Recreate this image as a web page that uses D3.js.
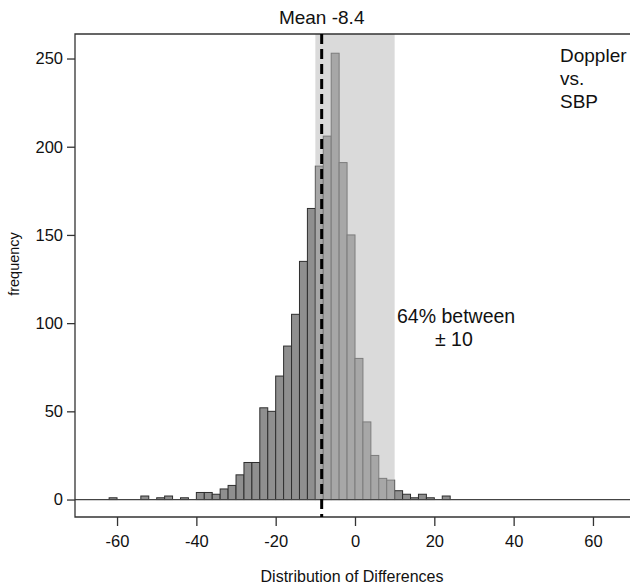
<!DOCTYPE html>
<html>
<head>
<meta charset="utf-8">
<script src="https://cdn.jsdelivr.net/npm/d3@7/dist/d3.min.js"></script>
<style>
  body { margin: 0; background: #fff; }
  svg text { font-family: "Liberation Sans", Arial, Helvetica, sans-serif; fill: #111; }
</style>
</head>
<body>
<svg id="chart" width="630" height="585"></svg>
<script>
// histogram bins, 2 units wide, left edge of each bin
const binStarts = [-62, -60, -58, -56, -54, -52, -50, -48, -46, -44, -42, -40, -38, -36, -34, -32, -30, -28, -26, -24,
  -22, -20, -18, -16, -14, -12, -10, -8, -6, -4, -2, 0, 2, 4, 6, 8, 10, 12, 14, 16, 18, 20, 22]
const counts = [1, 0, 0, 0, 2, 0, 1, 2, 0, 1, 0, 4, 4, 3, 6, 8, 14, 21, 21, 52,
  50, 70, 87, 105, 135, 165, 189, 206, 253, 191, 150, 80, 44, 25, 12, 11, 5, 3, 1, 3, 1, 0, 2]
const binWidth = 2
const meanDiff = -8.4
const band = [-10, 10]
const xTicks = [-60, -40, -20, 0, 20, 40, 60]
const yTicks = [0, 50, 100, 150, 200, 250]

var svg = d3.select('#chart')

var x = d3.scaleLinear().domain([-70.6, 70.6]).range([75, 635])
var y = d3.scaleLinear().domain([-9.9, 263.9]).range([517, 34])

var bins = binStarts.map(function (s, i) {
  return {x0: s, x1: s + binWidth, n: counts[i]}
}).filter(function (d) { return d.n > 0 })

// bars
svg.append('g')
  .selectAll('rect')
  .data(bins)
  .join('rect')
  .attr('x', function (d) { return x(d.x0) })
  .attr('width', function (d) { return x(d.x1) - x(d.x0) })
  .attr('y', function (d) { return y(d.n) })
  .attr('height', function (d) { return y(0) - y(d.n) })
  .attr('fill', '#8f8f8f')
  .attr('stroke', '#2e2e2e')
  .attr('stroke-width', 1)

// +/- 10 band, translucent over the bars
svg.append('rect')
  .attr('x', x(band[0]))
  .attr('width', x(band[1]) - x(band[0]))
  .attr('y', y(263.9))
  .attr('height', y(0) - y(263.9))
  .attr('fill', 'rgb(188,188,188)')
  .attr('fill-opacity', 0.55)

// zero line
svg.append('line')
  .attr('x1', x(-70.6)).attr('x2', 630)
  .attr('y1', y(0)).attr('y2', y(0))
  .attr('stroke', '#444')
  .attr('stroke-width', 1.2)

// frame (left, top, bottom)
svg.append('path')
  .attr('d', 'M632,' + y(263.9) + 'H' + x(-70.6) + 'V' + y(-9.9) + 'H632')
  .attr('fill', 'none')
  .attr('stroke', '#333')
  .attr('stroke-width', 1.3)

// mean line
svg.append('line')
  .attr('x1', x(meanDiff)).attr('x2', x(meanDiff))
  .attr('y1', y(263.9)).attr('y2', y(-9.9))
  .attr('stroke', '#000')
  .attr('stroke-width', 3)
  .attr('stroke-dasharray', '10,5')

// axes
var yAxis = svg.append('g')
  .attr('transform', 'translate(' + x(-70.6) + ',0)')
  .call(d3.axisLeft(y).tickValues(yTicks).tickSize(8).tickPadding(4))
yAxis.select('.domain').remove()

var xAxis = svg.append('g')
  .attr('transform', 'translate(0,' + y(-9.9) + ')')
  .call(d3.axisBottom(x).tickValues(xTicks).tickSize(9).tickPadding(9)
    .tickFormat(function (d) { return d < 0 ? '-' + Math.abs(d) : d }))
xAxis.select('.domain').remove()

svg.selectAll('.tick line').attr('stroke', '#333').attr('stroke-width', 1.3)
svg.selectAll('.tick text').style('font-size', '16.5px').attr('fill', '#111')

// labels
svg.append('text')
  .attr('x', 352).attr('y', 582)
  .attr('text-anchor', 'middle')
  .style('font-size', '16px')
  .text('Distribution of Differences')

svg.append('text')
  .attr('transform', 'translate(19,264) rotate(-90)')
  .attr('text-anchor', 'middle')
  .style('font-size', '14.5px')
  .text('frequency')

svg.append('text')
  .attr('x', x(meanDiff)).attr('y', 24)
  .attr('text-anchor', 'middle')
  .style('font-size', '19px')
  .text('Mean -8.4')

var note = svg.append('text')
  .attr('x', 560).attr('y', 62)
  .style('font-size', '19px')
note.append('tspan').attr('x', 560).text('Doppler')
note.append('tspan').attr('x', 560).attr('dy', 23).text('vs.')
note.append('tspan').attr('x', 560).attr('dy', 23).text('SBP')

svg.append('text')
  .attr('x', 397).attr('y', 323)
  .style('font-size', '19.5px')
  .text('64% between')
svg.append('text')
  .attr('x', 435).attr('y', 346)
  .style('font-size', '19.5px')
  .text('± 10')
</script>
</body>
</html>
